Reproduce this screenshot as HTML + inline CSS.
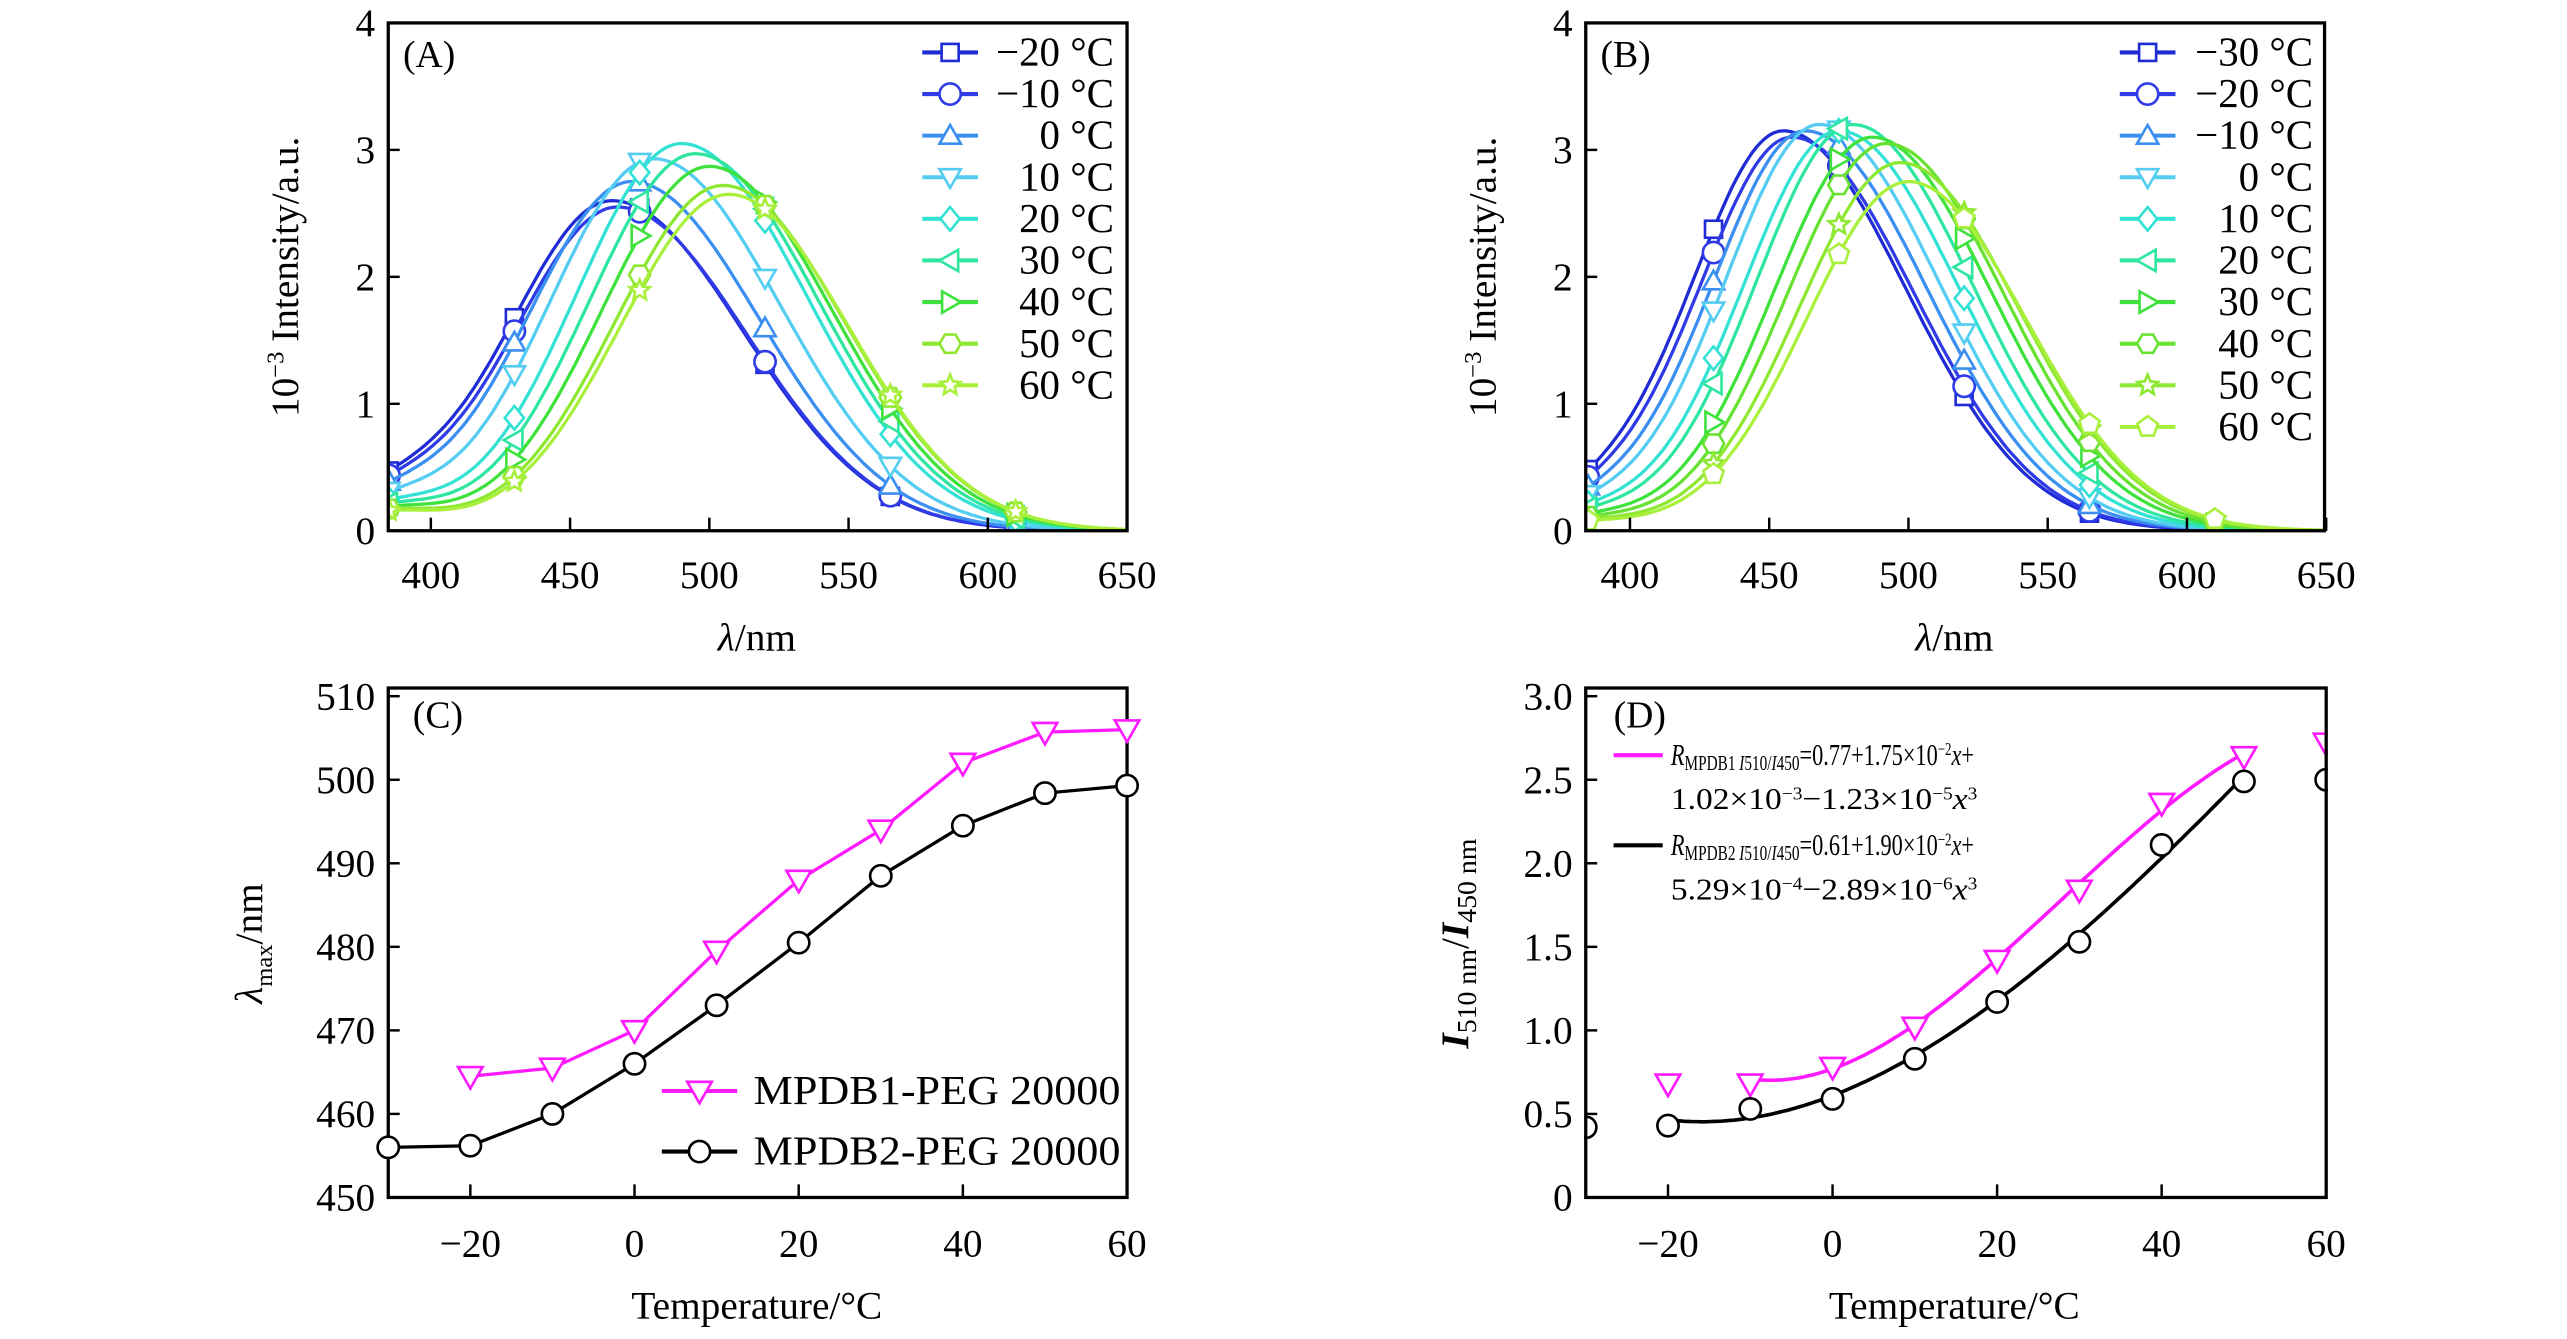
<!DOCTYPE html>
<html><head><meta charset="utf-8"><style>
html,body{margin:0;padding:0;background:#fff;}
svg{display:block;font-family:"Liberation Serif",serif;}
</style></head><body>
<svg id="s" width="2567" height="1339" viewBox="0 0 1567 817.4" preserveAspectRatio="none" xmlns="http://www.w3.org/2000/svg">
<defs>
<clipPath id="cA"><rect x="237" y="14" width="451" height="310"/></clipPath>
<clipPath id="cB"><rect x="968" y="14" width="452" height="310"/></clipPath>
</defs>
<g id="g"></g>
</svg>
<script>
var g=document.getElementById('g'),out='';
function marker(t,x,y,r,c){
  var s=' fill="#fff" stroke="'+c+'" stroke-width="1.6"';
  function poly(pts){return '<polygon points="'+pts.map(function(p){return (x+p[0]).toFixed(1)+','+(y+p[1]).toFixed(1)}).join(' ')+'"'+s+'/>';}
  if(t=='sq')return '<rect x="'+(x-r*0.8)+'" y="'+(y-r*0.8)+'" width="'+(1.6*r)+'" height="'+(1.6*r)+'"'+s+'/>';
  if(t=='ci')return '<circle cx="'+x+'" cy="'+y+'" r="'+r+'"'+s+'/>';
  if(t=='tu')return poly([[0,-r],[r,r*0.75],[-r,r*0.75]]);
  if(t=='td')return poly([[0,r],[r,-r*0.75],[-r,-r*0.75]]);
  if(t=='di')return poly([[0,-r*1.1],[r*0.9,0],[0,r*1.1],[-r*0.9,0]]);
  if(t=='tl')return poly([[-r,0],[r*0.75,-r],[r*0.75,r]]);
  if(t=='tr')return poly([[r,0],[-r*0.75,-r],[-r*0.75,r]]);
  if(t=='hx'){var p=[];for(var i=0;i<6;i++){var a=Math.PI/3*i;p.push([r*Math.cos(a),r*Math.sin(a)]);}return poly(p);}
  if(t=='pe'){var p=[];for(var i=0;i<5;i++){var a=-Math.PI/2+2*Math.PI/5*i;p.push([r*Math.cos(a),r*Math.sin(a)]);}return poly(p);}
  if(t=='st'){var p=[];for(var i=0;i<10;i++){var a=-Math.PI/2+Math.PI/5*i,rr=i%2?r*0.45:r;p.push([rr*Math.cos(a),rr*Math.sin(a)]);}return poly(p);}
}
function txt(x,y,s,size,anchor,extra){return '<text x="'+x+'" y="'+y+'" font-size="'+size+'" text-anchor="'+(anchor||'start')+'" '+(extra||'')+'>'+s+'</text>';}
function box(x0,y0,x1,y1){return '<rect x="'+x0+'" y="'+y0+'" width="'+(x1-x0)+'" height="'+(y1-y0)+'" fill="none" stroke="#000" stroke-width="2"/>';}

function spectra(X0,X400,clip,series,legX,legTextX,label,temps){
  var sx=function(l){return X400+(l-400)*1.7;}, sy=function(v){return 324-v*77.5;};
  out+='<g clip-path="url(#'+clip+')">';
  series.forEach(function(S){
    var d='';
    for(var l=384;l<=652;l+=1.5){var s=l<S.p?S.sL:S.sR;var v=S.a*Math.exp(-Math.pow(l-S.p,2)/(2*s*s))+S.b*Math.exp(-Math.pow(l-384,2)/800);
      d+=(d?'L':'M')+sx(l).toFixed(1)+','+sy(v).toFixed(1);}
    out+='<path d="'+d+'" fill="none" stroke="'+S.c+'" stroke-width="2"/>';
    [385,430,475,520,565,610].forEach(function(l){var s=l<S.p?S.sL:S.sR;var v=S.a*Math.exp(-Math.pow(l-S.p,2)/(2*s*s))+S.b*Math.exp(-Math.pow(l-384,2)/800);
      out+=marker(S.m,sx(l),sy(v),6.5,S.c);});
  });
  out+='</g>';
  out+=box(X0,14,X0+451,324);
  [0,1,2,3,4].forEach(function(v){var y=sy(v);out+='<line x1="'+X0+'" y1="'+y+'" x2="'+(X0+7)+'" y2="'+y+'" stroke="#000" stroke-width="1.5"/>'+txt(X0-8,y+8,v,24,'end');});
  [400,450,500,550,600,650].forEach(function(l){var x=sx(l);out+='<line x1="'+x+'" y1="324" x2="'+x+'" y2="316" stroke="#000" stroke-width="1.5"/>'+txt(x,359,l,24,'middle');});
  out+=txt(X0+225,397,'<tspan font-style="italic">λ</tspan>/nm',24,'middle');
  out+=txt(X0-55,169,'10<tspan dy="-9" font-size="15">−3</tspan><tspan dy="9"> Intensity/a.u.</tspan>',24,'middle','transform="rotate(-90 '+(X0-55)+' 169)"');
  out+=txt(X0+9,41,label,23);
  series.forEach(function(S,i){var y=32+i*25.4;
    out+='<line x1="'+legX+'" y1="'+y+'" x2="'+(legX+34)+'" y2="'+y+'" stroke="'+S.c+'" stroke-width="2.5"/>'+marker(S.m,legX+17,y,6.5,S.c)+txt(legTextX,y+8,temps[i]+' °C',25,'end');});
}
var colsA=['#1f2bd4','#2f3be6','#3b8ff0','#55cdf2','#33e2d4','#2fe6a0','#3fe23c','#8ee832','#a9f03c'];
var mA=['sq','ci','tu','td','di','tl','tr','hx','st'];
var pA=[[465,2.6],[467,2.55],[472,2.75],[480,2.93],[490,3.05],[495,2.97],[500,2.87],[505,2.72],[507,2.65]];
var sA=[];pA.forEach(function(p,i){sA.push({p:p[0],a:p[1],sL:37+i*0.25,sR:47-i*0.5,b:0.22-i*0.01,c:colsA[i],m:mA[i]});});
spectra(237,263,'cA',sA,563,680,'(A)',['−20','−10','0','10','20','30','40','50','60']);
var colsB=['#1f2bd4','#2f3be6','#3b8ff0','#55cdf2','#33e2d4','#2fe6a0','#3fe23c','#68e232','#8ee832','#a9f03c'];
var mB=['sq','ci','tu','td','di','tl','tr','hx','st','pe'];
var pB=[[455,3.15],[458,3.1],[463,3.15],[468,3.2],[475,3.15],[480,3.2],[487,3.1],[492,3.05],[497,2.9],[500,2.75]];
var sB=[];pB.forEach(function(p,i){sB.push({p:p[0],a:p[1],sL:33+i*0.4,sR:44-i*0.2,b:0.15-i*0.01,c:colsB[i],m:mB[i]});});
spectra(968,995,'cB',sB,1294,1412,'(B)',['−30','−20','−10','0','10','20','30','40','50','60']);

// C
(function(){
  var sx=function(t){return 237+(t+30)*451/90;}, sy=function(v){return 731-(v-450)*5.1;};
  out+=box(237,420,688,731);
  [450,460,470,480,490,500,510].forEach(function(v){var y=sy(v);out+='<line x1="237" y1="'+y+'" x2="244" y2="'+y+'" stroke="#000" stroke-width="1.5"/>'+txt(229,y+8,v,24,'end');});
  [-20,0,20,40,60].forEach(function(t){var x=sx(t);out+='<line x1="'+x+'" y1="731" x2="'+x+'" y2="723" stroke="#000" stroke-width="1.5"/>'+txt(x,767,t<0?'−'+(-t):t,24,'middle');});
  out+=txt(462,805,'Temperature/°C',24,'middle');
  out+=txt(160,576,'<tspan font-style="italic">λ</tspan><tspan dy="6" font-size="15">max</tspan><tspan dy="-6">/nm</tspan>',24,'middle','transform="rotate(-90 160 576)"');
  out+=txt(252,444,'(C)',23);
  var d1=[[-20,464.5],[-10,465.5],[0,470],[10,479.5],[20,488],[30,494],[40,502],[50,505.7],[60,506]];
  var d2=[[-30,456],[-20,456.2],[-10,460],[0,466],[10,473],[20,480.5],[30,488.5],[40,494.5],[50,498.4],[60,499.3]];
  function line(d,c){out+='<polyline points="'+d.map(function(p){return sx(p[0]).toFixed(1)+','+sy(p[1]).toFixed(1)}).join(' ')+'" fill="none" stroke="'+c+'" stroke-width="2"/>';}
  line(d1,'#ff1aff');line(d2,'#000');
  d1.forEach(function(p){out+=marker('td',sx(p[0]),sy(p[1]),7.5,'#ff1aff');});
  d2.forEach(function(p){out+=marker('ci',sx(p[0]),sy(p[1]),6.5,'#000');});
  out+='<line x1="404" y1="666" x2="450" y2="666" stroke="#ff1aff" stroke-width="2.5"/>'+marker('td',427,666,7.5,'#ff1aff')+txt(460,674,'MPDB1-PEG 20000',25,'start','textLength="224" lengthAdjust="spacingAndGlyphs"');
  out+='<line x1="404" y1="703" x2="450" y2="703" stroke="#000" stroke-width="2.5"/>'+marker('ci',427,703,6.5,'#000')+txt(460,711,'MPDB2-PEG 20000',25,'start','textLength="224" lengthAdjust="spacingAndGlyphs"');
})();

// D
(function(){
  var sx=function(t){return 968+(t+30)*452/90;}, sy=function(v){return 731-v*102;};
  var f1=function(x){return 0.77+0.0175*x+1.02e-3*x*x-1.23e-5*x*x*x;};
  var f2=function(x){return 0.61+0.019*x+5.29e-4*x*x-2.89e-6*x*x*x;};
  function curve(f,a,b,c){var d='';for(var x=a;x<=b;x+=0.5){d+=(d?'L':'M')+sx(x).toFixed(1)+','+sy(f(x)).toFixed(1);}out+='<path d="'+d+'" fill="none" stroke="'+c+'" stroke-width="2.2"/>';}
  curve(f1,-10,50,'#ff1aff');curve(f2,-20,50,'#000');
  var d1=[[-20,0.68],[-10,0.68],[0,0.78],[10,1.02],[20,1.42],[30,1.84],[40,2.36],[50,2.64],[60,2.72]];
  var d2=[[-30,0.42],[-20,0.43],[-10,0.53],[0,0.59],[10,0.83],[20,1.17],[30,1.53],[40,2.11],[50,2.49],[60,2.5]];
  d1.forEach(function(p){out+=marker('td',sx(p[0]),sy(p[1]),7.5,'#ff1aff');});
  d2.forEach(function(p){out+=marker('ci',sx(p[0]),sy(p[1]),6.5,'#000');});
  out+='<rect x="1421" y="420" width="40" height="320" fill="#fff"/><rect x="930" y="420" width="37" height="320" fill="#fff"/>';
  out+=box(968,420,1420,731);
  [[0,'0'],[0.5,'0.5'],[1,'1.0'],[1.5,'1.5'],[2,'2.0'],[2.5,'2.5'],[3,'3.0']].forEach(function(v){var y=sy(v[0]);out+='<line x1="968" y1="'+y+'" x2="975" y2="'+y+'" stroke="#000" stroke-width="1.5"/>'+txt(960,y+8,v[1],24,'end');});
  [-20,0,20,40,60].forEach(function(t){var x=sx(t);out+='<line x1="'+x+'" y1="731" x2="'+x+'" y2="723" stroke="#000" stroke-width="1.5"/>'+txt(x,767,t<0?'−'+(-t):t,24,'middle');});
  out+=txt(1193,805,'Temperature/°C',24,'middle');
  out+=txt(896,576,'<tspan font-style="italic" font-weight="bold">I</tspan><tspan dy="5" font-size="17">510 nm</tspan><tspan dy="-5">/</tspan><tspan font-style="italic" font-weight="bold">I</tspan><tspan dy="5" font-size="17">450 nm</tspan>',24,'middle','transform="rotate(-90 896 576)"');
  out+=txt(985,444,'(D)',23);
  out+='<line x1="985" y1="461" x2="1015" y2="461" stroke="#ff1aff" stroke-width="2.5"/>';
  out+='<line x1="985" y1="516" x2="1015" y2="516" stroke="#000" stroke-width="2.5"/>';
  var LA='textLength="185" lengthAdjust="spacingAndGlyphs"', LB='textLength="187" lengthAdjust="spacingAndGlyphs"';
  out+=txt(1020,467,'<tspan font-style="italic">R</tspan><tspan font-size="13" dy="3">MPDB1 <tspan font-style="italic">I</tspan>510/<tspan font-style="italic">I</tspan>450</tspan><tspan dy="-3">=0.77+1.75×10</tspan><tspan font-size="11" dy="-6">−2</tspan><tspan dy="6" font-style="italic">x</tspan>+',19,'start',LA);
  out+=txt(1020,494,'1.02×10<tspan font-size="11" dy="-6">−3</tspan><tspan dy="6">−1.23×10</tspan><tspan font-size="11" dy="-6">−5</tspan><tspan dy="6" font-style="italic">x</tspan><tspan font-size="11" dy="-6">3</tspan>',19,'start',LB);
  out+=txt(1020,522,'<tspan font-style="italic">R</tspan><tspan font-size="13" dy="3">MPDB2 <tspan font-style="italic">I</tspan>510/<tspan font-style="italic">I</tspan>450</tspan><tspan dy="-3">=0.61+1.90×10</tspan><tspan font-size="11" dy="-6">−2</tspan><tspan dy="6" font-style="italic">x</tspan>+',19,'start',LA);
  out+=txt(1020,549,'5.29×10<tspan font-size="11" dy="-6">−4</tspan><tspan dy="6">−2.89×10</tspan><tspan font-size="11" dy="-6">−6</tspan><tspan dy="6" font-style="italic">x</tspan><tspan font-size="11" dy="-6">3</tspan>',19,'start',LB);
})();
g.innerHTML=out;
</script>
</body></html>
